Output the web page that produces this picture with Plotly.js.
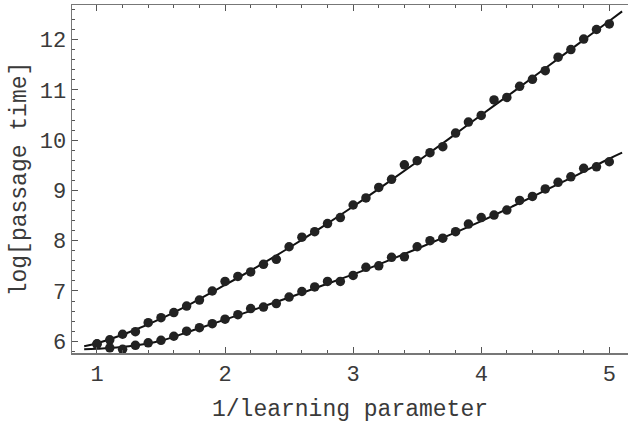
<!DOCTYPE html>
<html>
<head>
<meta charset="utf-8">
<script src="https://cdn.plot.ly/plotly-3.0.1.min.js"></script>
<style>html,body{margin:0;padding:0;background:#fff;}#chart{width:628px;height:423px;}</style>
</head>
<body>
<div id="chart"></div>
<script>
// data points (x = 1/learning parameter)
const xPoints = [1.0,1.1,1.2,1.3,1.4,1.5,1.6,1.7,1.8,1.9,2.0,2.1,2.2,2.3,2.4,2.5,2.6,2.7,2.8,2.9,3.0,
                 3.1,3.2,3.3,3.4,3.5,3.6,3.7,3.8,3.9,4.0,4.1,4.2,4.3,4.4,4.5,4.6,4.7,4.8,4.9,5.0];
const upperPoints = [5.95,6.03,6.14,6.19,6.37,6.47,6.57,6.70,6.82,7.00,7.19,7.29,7.38,7.53,7.63,7.88,8.07,8.18,8.34,8.46,8.71,
                     8.85,9.06,9.22,9.51,9.59,9.75,9.87,10.14,10.36,10.49,10.80,10.85,11.07,11.21,11.38,11.65,11.80,12.01,12.20,12.31];
const lowerPoints = [5.94,5.87,5.84,5.92,5.97,6.02,6.10,6.20,6.27,6.35,6.44,6.53,6.65,6.68,6.75,6.88,6.99,7.08,7.19,7.19,7.31,
                     7.47,7.50,7.67,7.68,7.88,8.00,8.05,8.18,8.33,8.46,8.51,8.61,8.80,8.88,9.03,9.16,9.27,9.44,9.47,9.57];

// fitted curves
const xCurve = [0.9,1.0,1.25,1.5,1.75,2.0,2.25,2.5,2.75,3.0,3.25,3.5,3.75,4.0,4.25,4.5,4.75,5.0,5.1];
const upperCurve = [5.90,5.96,6.18,6.45,6.77,7.12,7.48,7.86,8.26,8.68,9.12,9.57,10.03,10.50,10.96,11.43,11.90,12.37,12.56];
const lowerCurve = [5.84,5.85,5.90,6.01,6.22,6.43,6.65,6.87,7.10,7.33,7.58,7.84,8.11,8.39,8.69,9.00,9.31,9.63,9.75];

const xTickVals = [1,2,3,4,5];
const yTickVals = [6,7,8,9,10,11,12];

const lineStyle = {color:'#111', width:2};
const markerStyle = {color:'#222', size:9.5};

const traces = [
  {x:xCurve, y:upperCurve, mode:'lines', line:Object.assign({shape:'spline'}, lineStyle), hoverinfo:'skip'},
  {x:xCurve, y:lowerCurve, mode:'lines', line:Object.assign({shape:'spline'}, lineStyle), hoverinfo:'skip'},
  {x:xPoints, y:upperPoints, mode:'markers', marker:markerStyle},
  {x:xPoints, y:lowerPoints, mode:'markers', marker:markerStyle}
];

const tickFont = {family:'"Liberation Mono", "DejaVu Sans Mono", monospace', size:22, color:'#3a3a3a'};
const titleFont = {family:'"Liberation Mono", "DejaVu Sans Mono", monospace', size:23, color:'#3a3a3a'};

const layout = {
  width:628, height:423,
  margin:{l:72, r:0, t:5, b:70},
  paper_bgcolor:'#fff', plot_bgcolor:'#fff',
  showlegend:false,
  xaxis:{
    range:[0.805,5.146], tickmode:'array', tickvals:xTickVals, ticktext:xTickVals.map(String),
    ticks:'inside', ticklen:6, tickwidth:1, tickcolor:'#555',
    minor:{dtick:0.2, tick0:0, ticks:'inside', ticklen:3, tickcolor:'#555', showgrid:false},
    showline:true, linecolor:'#777', linewidth:1.5, mirror:'ticks',
    showgrid:false, zeroline:false, tickfont:tickFont,
    title:{text:'1/learning parameter', font:titleFont, standoff:16}
  },
  yaxis:{
    range:[5.767,12.687], tickmode:'array', tickvals:yTickVals, ticktext:yTickVals.map(String),
    ticks:'inside', ticklen:6, tickwidth:1, tickcolor:'#555',
    minor:{dtick:0.2, tick0:0, ticks:'inside', ticklen:3, tickcolor:'#555', showgrid:false},
    showline:true, linecolor:'#777', linewidth:1.5, mirror:false,
    showgrid:false, zeroline:false, tickfont:tickFont,
    title:{text:'log[passage time]', font:titleFont, standoff:6}
  }
};

Plotly.newPlot('chart', traces, layout, {staticPlot:true, displayModeBar:false});
</script>
</body>
</html>
